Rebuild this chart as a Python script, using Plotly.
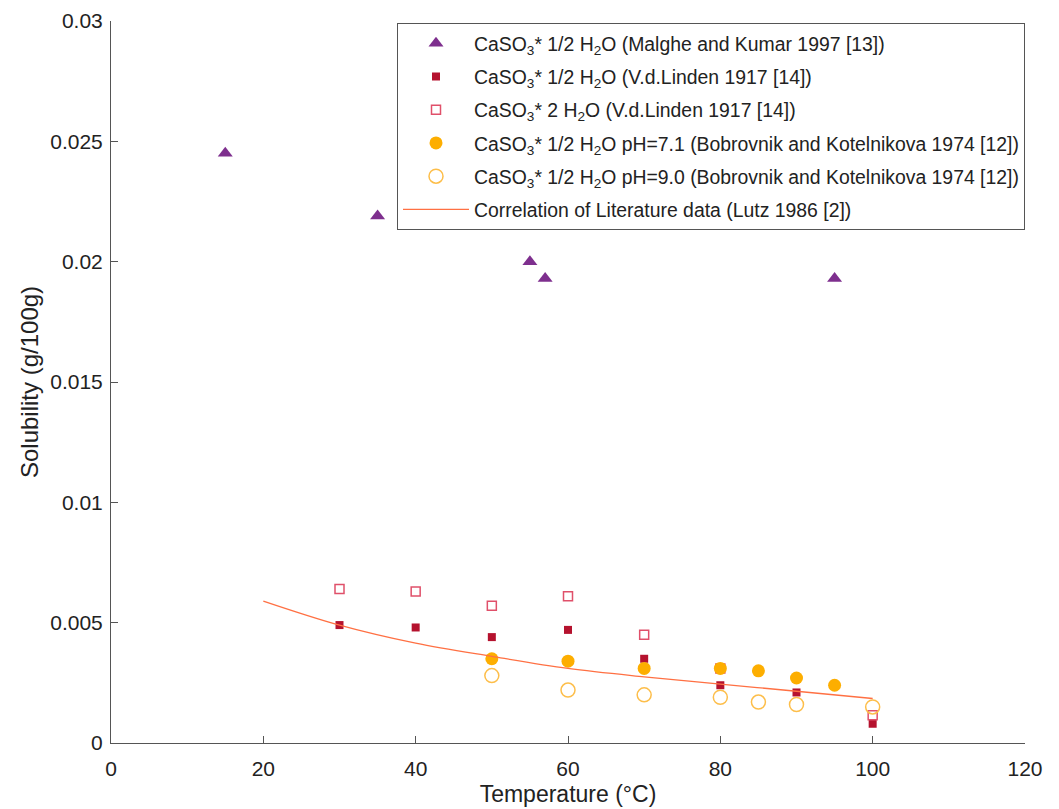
import plotly.graph_objects as go

# Data
tri_x = [15, 35, 55, 57, 95]
tri_y = [0.0245, 0.0219, 0.0200, 0.0193, 0.0193]

sqf_x = [30, 40, 50, 60, 70, 80, 90, 100]
sqf_y = [0.0049, 0.0048, 0.0044, 0.0047, 0.0035, 0.0024, 0.0021, 0.0008]

sqo_x = [30, 40, 50, 60, 70, 80, 100]
sqo_y = [0.0064, 0.0063, 0.0057, 0.0061, 0.0045, 0.0031, 0.00115]

cf_x = [50, 60, 70, 80, 85, 90, 95]
cf_y = [0.0035, 0.0034, 0.0031, 0.0031, 0.0030, 0.0027, 0.0024]

co_x = [50, 60, 70, 80, 85, 90, 100]
co_y = [0.0028, 0.0022, 0.0020, 0.0019, 0.0017, 0.0016, 0.0015]

line_x = [20, 30, 40, 50, 60, 70, 80, 90, 100]
line_y = [0.0059, 0.0049, 0.00415, 0.0036, 0.0031, 0.00275, 0.00245, 0.00215, 0.00185]

names = [
    "CaSO<sub>3</sub>* 1/2 H<sub>2</sub>O (Malghe and Kumar 1997 [13])",
    "CaSO<sub>3</sub>* 1/2 H<sub>2</sub>O (V.d.Linden 1917 [14])",
    "CaSO<sub>3</sub>* 2 H<sub>2</sub>O (V.d.Linden 1917 [14])",
    "CaSO<sub>3</sub>* 1/2 H<sub>2</sub>O pH=7.1 (Bobrovnik and Kotelnikova 1974 [12])",
    "CaSO<sub>3</sub>* 1/2 H<sub>2</sub>O pH=9.0 (Bobrovnik and Kotelnikova 1974 [12])",
    "Correlation of Literature data (Lutz 1986 [2])",
]

fig = go.Figure()
fig.add_trace(go.Scatter(x=tri_x, y=tri_y, mode="markers", name=names[0], legendgroup="g0",
                         marker=dict(symbol="triangle-up", size=13, color="#7E2F8E")))
fig.add_trace(go.Scatter(x=sqf_x, y=sqf_y, mode="markers", name=names[1], legendgroup="g1",
                         marker=dict(symbol="square", size=8, color="#B5122E")))
fig.add_trace(go.Scatter(x=sqo_x, y=sqo_y, mode="markers", name=names[2], legendgroup="g2",
                         marker=dict(symbol="square-open", size=9, color="#E0506A",
                                     line=dict(width=1.5))))
fig.add_trace(go.Scatter(x=cf_x, y=cf_y, mode="markers", name=names[3], legendgroup="g3",
                         marker=dict(symbol="circle", size=13, color="#FDAE00")))
fig.add_trace(go.Scatter(x=co_x, y=co_y, mode="markers", name=names[4], legendgroup="g4",
                         marker=dict(symbol="circle-open", size=14, color="#FDBE4A",
                                     line=dict(width=1.5))))
fig.add_trace(go.Scatter(x=line_x, y=line_y, mode="lines", name=names[5], legendgroup="g5",
                         line=dict(color="#FF7043", width=1.3, shape="spline")))

axis_common = dict(
    showgrid=False, zeroline=False, showline=True, linecolor="#555555", linewidth=1,
    ticks="inside", ticklen=7, tickcolor="#555555", automargin=False,
    tickfont=dict(family="Liberation Sans", size=21, color="#222222"),
)

fig.update_layout(
    width=1051, height=801,
    margin=dict(l=103, r=34, t=13, b=66),
    paper_bgcolor="white", plot_bgcolor="white",
    font=dict(family="Liberation Sans", color="#222222"),
    xaxis=dict(range=[0, 120], tick0=0, dtick=20, ticklabelstandoff=7,
               title=dict(text="Temperature (°C)", font=dict(size=23), standoff=6),
               **axis_common),
    yaxis=dict(range=[0, 0.03], tick0=0, dtick=0.005, ticklabelstandoff=3,
               title=dict(text="Solubility (g/100g)", font=dict(size=24), standoff=4),
               **axis_common),
    showlegend=True,
    legend=dict(x=1.0, y=0.997, xanchor="right", yanchor="top",
                bordercolor="#555555", borderwidth=1, bgcolor="white",
                font=dict(family="Liberation Sans", size=19.4, color="#222222"),
                tracegroupgap=5, itemwidth=66),
)

fig.write_html("out.html")
